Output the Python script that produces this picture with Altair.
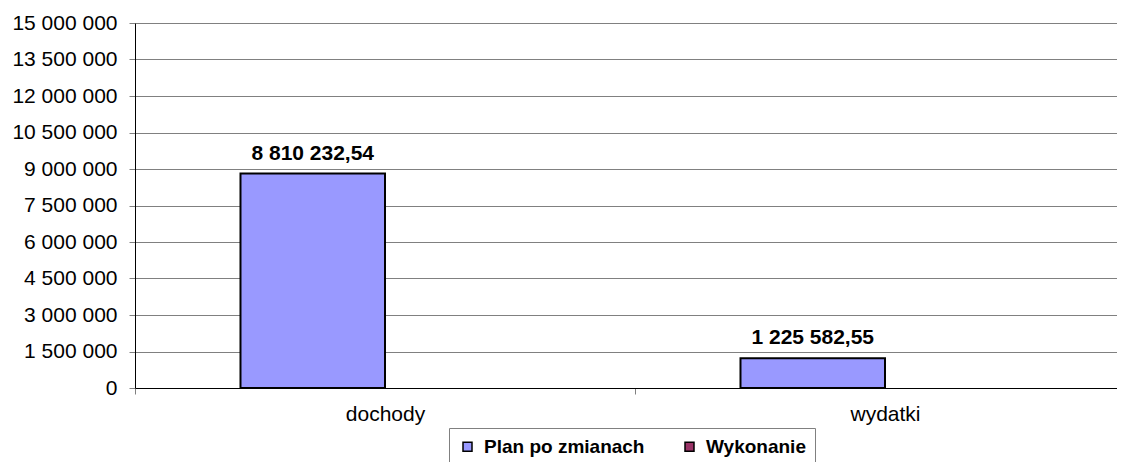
import altair as alt
import pandas as pd

categories = ["dochody", "wydatki"]
series = ["Plan po zmianach", "Wykonanie"]
plan_values = [8810232.54, 1225582.55]
wykonanie_values = [0.0, 0.0]
y_ticks = [0, 1500000, 3000000, 4500000, 6000000, 7500000, 9000000,
           10500000, 12000000, 13500000, 15000000]
colors = ["#9999FF", "#993366"]

rows = []
for i, c in enumerate(categories):
    rows.append({"kategoria": c, "seria": series[0], "wartosc": plan_values[i]})
    rows.append({"kategoria": c, "seria": series[1], "wartosc": wykonanie_values[i]})
df = pd.DataFrame(rows)

FONT = "Liberation Sans"

x_enc = alt.X(
    "kategoria:N", sort=categories,
    scale=alt.Scale(paddingInner=0, paddingOuter=0, range=[0, 1000]),
    axis=alt.Axis(title=None, labelAngle=0, labelFontSize=21, labelColor="black",
                  labelFont=FONT, domainColor="black", domainWidth=1,
                  tickColor="#808080", tickSize=6, tickBand="extent",
                  labelPadding=9, grid=False),
)
xoff_enc = alt.XOffset(
    "seria:N", sort=series,
    scale=alt.Scale(domain=series, paddingInner=0, paddingOuter=0.73),
)
y_enc = alt.Y(
    "wartosc:Q",
    scale=alt.Scale(domain=[0, 15000000], nice=False),
    axis=alt.Axis(title=None, values=y_ticks, format=",.0f", labelFontSize=21,
                  labelColor="black", labelFont=FONT, domainColor="black",
                  domainWidth=1, tickColor="#808080", tickSize=6, labelPadding=12,
                  labelOverlap=False,
                  grid=True, gridColor="#808080", gridWidth=1),
)
color_enc = alt.Color(
    "seria:N", sort=series,
    scale=alt.Scale(domain=series, range=colors),
    legend=alt.Legend(title=None, orient="none", legendX=314, legendY=405,
                      direction="horizontal", strokeColor="#808080", padding=9,
                      fillColor="white", columnPadding=35, labelFontSize=19,
                      labelFontWeight="bold", labelFont=FONT, labelColor="black",
                      labelLimit=400,
                      symbolType="square", symbolSize=81, symbolStrokeColor="black",
                      symbolStrokeWidth=1.5, labelOffset=7),
)

base = alt.Chart(df)

bars = base.mark_bar(stroke="black", strokeWidth=2).encode(
    x=x_enc, xOffset=xoff_enc, y=y_enc, color=color_enc
).transform_filter("datum.wartosc > 0")

labels = base.mark_text(fontWeight="bold", fontSize=21, font=FONT, color="black",
                        baseline="alphabetic", dy=-14).encode(
    x=x_enc,
    xOffset=xoff_enc,
    y=y_enc,
    text=alt.Text("wartosc:Q", format=",.2f"),
).transform_filter("datum.wartosc > 0")

chart = alt.layer(bars, labels).properties(
    width=982, height=365,
    autosize=alt.AutoSizeParams(type="none"),
    padding={"left": 127, "top": 15, "right": 0, "bottom": 74},
).configure_view(strokeWidth=0).configure(
    locale={"number": {"decimal": ",", "thousands": " ", "grouping": [3],
                       "currency": ["", " zł"]}}
)

chart.save("out.html", embed_options={"renderer": "svg", "actions": False})
